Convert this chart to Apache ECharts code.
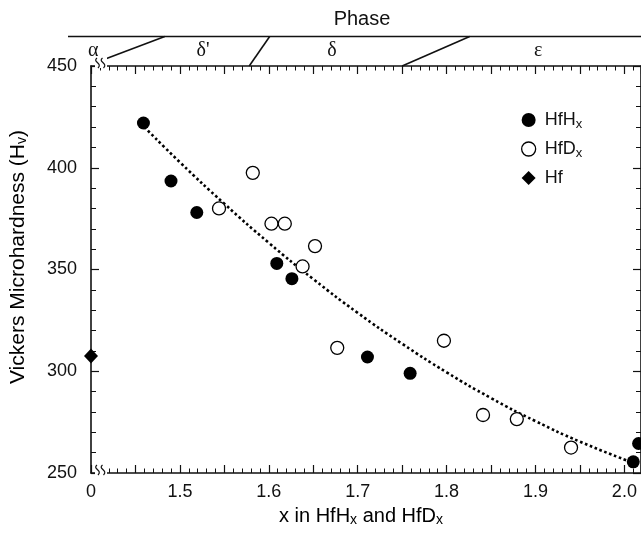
<!DOCTYPE html>
<html><head><meta charset="utf-8">
<script src="https://cdn.jsdelivr.net/npm/echarts@6/dist/echarts.min.js"></script>
<style>html,body{margin:0;padding:0;background:#fff}#c{width:641px;height:534px}</style>
</head><body><div id="c"></div>
<script>
// ---- data ----
const hfhX = [1.459, 1.490, 1.519, 1.609, 1.626, 1.711, 1.759, 2.010, 2.016];
const hfhY = [422, 393.5, 378, 353, 345.5, 307, 299, 255.5, 264.5];
const hfdX = [1.544, 1.582, 1.603, 1.618, 1.638, 1.652, 1.677, 1.797, 1.841, 1.879, 1.940];
const hfdY = [380, 397.5, 372.5, 372.5, 351.5, 361.5, 311.5, 315, 278.5, 276.5, 262.5];
const hfX = [0];
const hfY = [307.5];
const fitX = [1.46, 1.5, 1.55, 1.6, 1.65, 1.7, 1.75, 1.8, 1.85, 1.9, 1.95, 2.01];
const fitY = [420, 402.7, 382.3, 363.1, 345.3, 328.7, 313.5, 299.5, 286.8, 275.5, 265.4, 255];
const xTickValues = [1.4, 1.5, 1.6, 1.7, 1.8, 1.9, 2.0];
const xTickLabels = ['0', '1.5', '1.6', '1.7', '1.8', '1.9', '2.0'];
const phaseNames = ['α', 'δ\'', 'δ', 'ε'];
const phaseLabelX = [1.4025, 1.526, 1.671, 1.903];
const phaseBoundBottom = [1.416, 1.578, 1.75];
const phaseBoundTop = [1.483, 1.601, 1.826];

const X_MIN = 1.4, X_MAX = 2.0187;   // broken axis: 0 drawn at X_MIN
const mapX = v => (v === 0 ? X_MIN : v);
const pair = (xs, ys) => xs.map((x, i) => [mapX(x), ys[i]]);

const FONT = 'Liberation Sans, Arial, sans-serif';
const chart = echarts.init(document.getElementById('c'));

const mkRich = (big, small, lh) => ({
  m: { fontSize: big, fontFamily: FONT, color: '#111', lineHeight: lh },
  s: { fontSize: small, fontFamily: FONT, color: '#111', lineHeight: lh - 9, padding: [9, 0, 0, 0] }
});
const xAxisCommon = {
  type: 'value', min: X_MIN, max: X_MAX, interval: 0.05,
  axisLine: { show: true, onZero: false, lineStyle: { color: '#111', width: 1.6 } },
  axisTick: { show: true, inside: true, length: 8, lineStyle: { color: '#111', width: 1.2 } },
  minorTick: { show: true, splitNumber: 5, length: 4.5, lineStyle: { color: '#111', width: 1 } },
  splitLine: { show: false }
};
const yAxisCommon = {
  type: 'value', min: 250, max: 450, interval: 50,
  axisLine: { show: true, onZero: false, lineStyle: { color: '#111', width: 1.6 } },
  axisTick: { show: true, inside: true, length: 8, lineStyle: { color: '#111', width: 1.2 } },
  minorTick: { show: true, splitNumber: 5, length: 5, lineStyle: { color: '#111', width: 1 } },
  splitLine: { show: false }
};

chart.setOption({
  animation: false,
  backgroundColor: '#fff',
  grid: { left: 91, right: 0, top: 66, bottom: 61 },
  legend: {
    orient: 'vertical', left: 516, top: 104, itemGap: 7,
    itemWidth: 14, itemHeight: 14,
    data: [
      { name: 'HfHx', icon: 'circle', itemStyle: { color: '#000', opacity: 1 } },
      { name: 'HfDx', icon: 'circle', itemStyle: { color: '#fff', borderColor: '#000', borderWidth: 1.3, opacity: 1 } },
      { name: 'Hf', icon: 'diamond', itemStyle: { color: '#000', opacity: 1 } }
    ],
    formatter: n => n === 'HfHx' ? '{p|}{m|HfH}{s|x}' : n === 'HfDx' ? '{p|}{m|HfD}{s|x}' : '{p|}{m|Hf}{s| }',
    textStyle: { rich: Object.assign({ p: { width: 4 } }, mkRich(18, 13, 22)) }
  },
  xAxis: [
    Object.assign({}, xAxisCommon, {
      position: 'bottom',
      axisLabel: {
        fontSize: 18, fontFamily: FONT, color: '#111', margin: 10, showMaxLabel: false,
        formatter: v => { const i = xTickValues.findIndex(t => Math.abs(t - v) < 1e-6); return i >= 0 ? xTickLabels[i] : ''; }
      }
    }),
    Object.assign({}, xAxisCommon, { position: 'top', axisLabel: { show: false } })
  ],
  yAxis: [
    Object.assign({}, yAxisCommon, {
      position: 'left',
      axisLabel: { fontSize: 18, fontFamily: FONT, color: '#111', margin: 14 }
    }),
    Object.assign({}, yAxisCommon, { position: 'right', axisLabel: { show: false } })
  ],
  series: [
    {
      name: 'fit', type: 'line', data: pair(fitX, fitY), smooth: true, showSymbol: false, z: 1,
      lineStyle: { color: '#000', width: 2.6, type: [2.6, 2.6] }, silent: true
    },
    {
      name: 'HfHx', type: 'scatter', data: pair(hfhX, hfhY), symbol: 'circle', symbolSize: 13, z: 3,
      itemStyle: { color: '#000', opacity: 1 }
    },
    {
      name: 'HfDx', type: 'scatter', data: pair(hfdX, hfdY), symbol: 'circle', symbolSize: 13, z: 3,
      itemStyle: { color: '#fff', borderColor: '#000', borderWidth: 1.3, opacity: 1 }
    },
    {
      name: 'Hf', type: 'scatter', data: pair(hfX, hfY), symbol: 'diamond', symbolSize: [14, 15], z: 4,
      clip: false, itemStyle: { color: '#000', opacity: 1 }
    }
  ]
});

// ---- decorations: axis breaks, titles and phase band ----
const px = (x, y) => chart.convertToPixel({ gridIndex: 0 }, [x, y]);
const [gx0, gyBot] = px(X_MIN, 250);
const [, gyTop] = px(X_MIN, 450);
const [gx1] = px(X_MAX, 250);
const g = [];
function brk(y) {
  const x0 = gx0 + 4;
  g.push({ type: 'rect', shape: { x: x0, y: y - 10, width: 12, height: 12 }, style: { fill: '#fff' }, z: 100 });
  [x0 + 3, x0 + 8.5].forEach(cx => {
    g.push({ type: 'bezierCurve', shape: { x1: cx - 1, y1: y - 8, cpx1: cx - 6, cpy1: y - 4, cpx2: cx + 5, cpy2: y - 3, x2: cx, y2: y + 2 },
      style: { stroke: '#111', lineWidth: 1.2, fill: null }, z: 101 });
  });
}
brk(gyBot);
brk(gyTop);

// axis titles
g.push({ type: 'text', x: 361, y: 516, z: 50,
  style: { text: '{m|x in HfH}{s|x}{m| and HfD}{s|x}', rich: mkRich(20, 14, 24), align: 'center', verticalAlign: 'middle' } });
g.push({ type: 'text', x: 18, y: 257, rotation: Math.PI / 2, z: 50,
  style: { text: '{m|Vickers Microhardness (H}{s|v}{m|)}', rich: mkRich(21, 14, 24), align: 'center', verticalAlign: 'middle' } });

const bandY = gyTop - 29.5;
g.push({ type: 'line', shape: { x1: 68, y1: bandY, x2: gx1 + 2, y2: bandY }, style: { stroke: '#111', lineWidth: 1.6 }, z: 50 });
phaseBoundBottom.forEach((xb, i) => {
  const [pb] = px(xb, 450), [pt] = px(phaseBoundTop[i], 450);
  const yb = i === 0 ? gyTop - 7 : gyTop;
  g.push({ type: 'line', shape: { x1: pb, y1: yb, x2: pt, y2: bandY }, style: { stroke: '#111', lineWidth: 1.6 }, z: 50 });
});
phaseNames.forEach((n, i) => {
  const [p] = px(phaseLabelX[i], 450);
  g.push({ type: 'text', x: p, y: gyTop - 15, z: 50,
    style: { text: n, fontSize: 20, fontFamily: 'Liberation Serif, Times New Roman, serif', fill: '#111', align: 'center', verticalAlign: 'middle' } });
});
g.push({ type: 'text', x: 362, y: bandY - 17, z: 50,
  style: { text: 'Phase', fontSize: 20, fontFamily: FONT, fill: '#111', align: 'center', verticalAlign: 'middle' } });

chart.setOption({ graphic: g });
</script></body></html>
